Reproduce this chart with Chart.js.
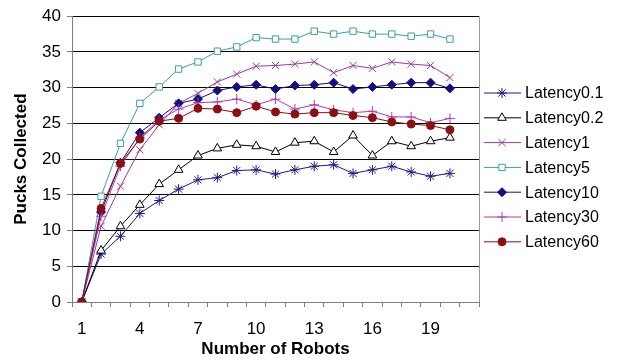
<!DOCTYPE html>
<html>
<head>
<meta charset="utf-8">
<script src="https://cdn.jsdelivr.net/npm/chart.js@4/dist/chart.umd.min.js"></script>
<style>
  html, body { margin: 0; padding: 0; background: #fff; }
  canvas { display: block; }
</style>
</head>
<body>
<canvas id="chart" width="620" height="360"></canvas>
<script>
// number of robots (one extra empty slot at the end, like the original axis)
const robots = ['1','2','3','4','5','6','7','8','9','10','11','12','13','14','15','16','17','18','19','20','21'];

const seriesNames = ['Latency0.1', 'Latency0.2', 'Latency1', 'Latency5', 'Latency10', 'Latency30', 'Latency60'];

const lat01 = [0, 6.7, 9.2, 12.4, 14.2, 15.8, 17.1, 17.4, 18.4, 18.5, 17.9, 18.5, 19.0, 19.2, 18.0, 18.5, 19.0, 18.2, 17.6, 18.0];
const lat02 = [0, 7.2, 10.6, 13.6, 16.5, 18.5, 20.5, 21.5, 22.0, 21.8, 21.0, 22.3, 22.5, 21.0, 23.3, 20.5, 22.5, 21.8, 22.5, 23.0];
const lat1 = [0, 10.6, 16.2, 21.3, 24.8, 27.8, 29.2, 30.8, 31.9, 33.0, 33.1, 33.3, 33.6, 32.1, 33.1, 32.7, 33.6, 33.3, 33.1, 31.4];
const lat5 = [0, 14.8, 22.2, 27.8, 30.1, 32.6, 33.6, 35.1, 35.7, 37.0, 36.8, 36.8, 37.9, 37.5, 37.9, 37.5, 37.5, 37.2, 37.5, 36.8];
const lat10 = [0, 12.6, 19.5, 23.7, 25.8, 27.8, 28.4, 29.6, 30.1, 30.4, 29.8, 30.3, 30.4, 30.7, 29.8, 30.1, 30.4, 30.7, 30.7, 29.9];
const lat30 = [0, 12.0, 19.0, 23.0, 25.5, 27.0, 27.9, 28.0, 28.4, 27.6, 28.4, 27.0, 27.6, 26.9, 26.5, 26.7, 25.9, 25.9, 25.1, 25.7];
const lat60 = [0, 13.1, 19.4, 22.8, 25.3, 25.7, 27.1, 27.0, 26.5, 27.4, 26.6, 26.3, 26.5, 26.5, 26.1, 25.8, 25.2, 24.9, 24.7, 24.1];

const yTicks = [0, 5, 10, 15, 20, 25, 30, 35, 40];

// marker look per series
const styles = [
    { color: '#1c1c86', point: 'star', fill: '#1c1c86', radius: 5 },
    { color: '#000000', point: 'triangle', fill: '#ffffff', radius: 5 },
    { color: '#9a3a9e', point: 'crossRot', fill: '#9a3a9e', radius: 5 },
    { color: '#3a9fa0', point: 'rect', fill: '#ffffff', radius: 4.5 },
    { color: '#10107e', point: 'rectRot', fill: '#10107e', radius: 4.5 },
    { color: '#b23ab2', point: 'cross', fill: '#b23ab2', radius: 5 },
    { color: '#8c1010', point: 'circle', fill: '#8c1010', radius: 4 }
];

const allData = [lat01, lat02, lat1, lat5, lat10, lat30, lat60];

const datasets = allData.map((d, i) => ({
    label: seriesNames[i],
    data: d,
    borderColor: styles[i].color,
    backgroundColor: styles[i].fill,
    borderWidth: 1,
    pointStyle: styles[i].point,
    pointRadius: styles[i].radius,
    pointBorderWidth: 1,
    pointBackgroundColor: styles[i].fill,
    pointBorderColor: styles[i].color,
    tension: 0,
    order: 6 - i
}));

// legend on the right, drawn like the old spreadsheet legend (line + marker)
const sideLegend = {
    id: 'sideLegend',
    afterDraw(chart) {
        const ctx = chart.ctx;
        ctx.save();
        chart.data.datasets.forEach((ds, i) => {
            const y = 93 + i * 24.8;
            ctx.strokeStyle = ds.borderColor;
            ctx.lineWidth = 1;
            ctx.beginPath();
            ctx.moveTo(484, y);
            ctx.lineTo(521, y);
            ctx.stroke();
            ctx.fillStyle = ds.pointBackgroundColor;
            ctx.strokeStyle = ds.pointBorderColor;
            Chart.helpers.drawPoint(ctx, {
                pointStyle: ds.pointStyle,
                radius: ds.pointRadius,
                borderWidth: 1,
                rotation: 0
            }, 502, y);
            ctx.fillStyle = '#000';
            ctx.font = '16px "Liberation Sans", Arial, sans-serif';
            ctx.textBaseline = 'middle';
            ctx.textAlign = 'left';
            ctx.fillText(ds.label, 525, y + 1);
        });
        // right border of the plot
        const a = chart.chartArea;
        ctx.strokeStyle = '#9a9a9a';
        ctx.beginPath();
        ctx.moveTo(a.right + 0.5, a.top);
        ctx.lineTo(a.right + 0.5, a.bottom);
        ctx.stroke();
        ctx.restore();
    }
};

const ctx = document.getElementById('chart').getContext('2d');
new Chart(ctx, {
    type: 'line',
    data: { labels: robots, datasets: datasets },
    plugins: [sideLegend],
    options: {
        responsive: false,
        animation: false,
        layout: { padding: { top: 16, right: 141, bottom: 0, left: 0 } },
        plugins: {
            legend: { display: false },
            tooltip: { enabled: false }
        },
        scales: {
            x: {
                offset: true,
                afterFit: (scale) => { scale.height = 58; },
                grid: {
                    offset: true,
                    drawOnChartArea: false,
                    tickLength: 5,
                    tickColor: '#808080'
                },
                border: { color: '#808080', width: 1 },
                ticks: {
                    autoSkip: false,
                    maxRotation: 0,
                    padding: 12,
                    color: '#000',
                    font: { family: '"Liberation Sans", Arial, sans-serif', size: 17 },
                    callback: function(value, index) {
                        return (index % 3 === 0 && index < 20) ? robots[index] : '';
                    }
                },
                title: {
                    display: true,
                    text: 'Number of Robots',
                    color: '#000',
                    padding: { top: 0, bottom: 0 },
                    font: { family: '"Liberation Sans", Arial, sans-serif', size: 17, weight: 'bold' }
                }
            },
            y: {
                min: 0,
                max: 40,
                afterFit: (scale) => { scale.width = 72; },
                afterBuildTicks: (scale) => { scale.ticks = yTicks.map(v => ({ value: v })); },
                grid: {
                    color: (c) => (c.tick && c.tick.value === 0) ? '#808080' : '#000000',
                    tickLength: 5,
                    tickColor: '#808080'
                },
                border: { color: '#808080', width: 1 },
                ticks: {
                    padding: 6,
                    color: '#000',
                    font: { family: '"Liberation Sans", Arial, sans-serif', size: 17 }
                },
                title: {
                    display: true,
                    text: 'Pucks Collected',
                    color: '#000',
                    padding: { top: 11, bottom: 0 },
                    font: { family: '"Liberation Sans", Arial, sans-serif', size: 17, weight: 'bold' }
                }
            }
        }
    }
});
</script>
</body>
</html>
